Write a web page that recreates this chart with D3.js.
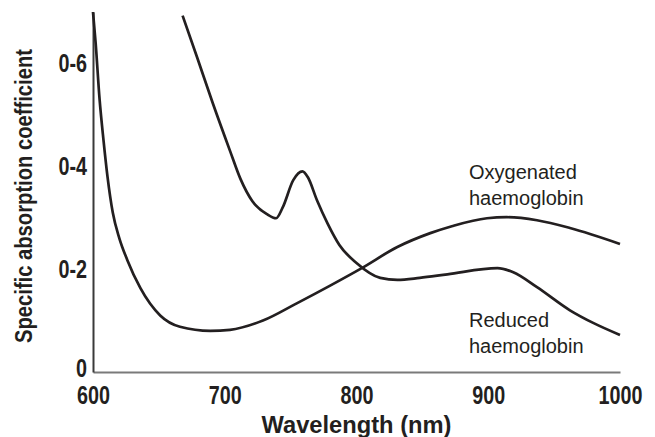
<!DOCTYPE html>
<html>
<head>
<meta charset="utf-8">
<script src="https://cdn.jsdelivr.net/npm/d3@7"></script>
<style>
    body { margin: 0; background: #fff; }
    #wrapper { width: 655px; height: 437px; }
    text { fill: #231f20; }
</style>
</head>
<body>
<div id="wrapper"></div>
<script>
// values (wavelength in nm, coefficient)
const oxyWavelength = [600, 602, 605, 608, 611, 615, 620, 626, 636, 651, 666, 689, 704, 729, 755, 780, 804, 831, 856, 873, 899, 914, 937, 962, 1000]
const oxyValue = [0.70, 0.64, 0.53, 0.45, 0.38, 0.31, 0.26, 0.218, 0.163, 0.110, 0.088, 0.080, 0.082, 0.100, 0.134, 0.168, 0.202, 0.243, 0.270, 0.284, 0.299, 0.301, 0.295, 0.280, 0.249]

const redWavelength = [668, 679, 691, 704, 712, 721, 732, 739, 744, 752, 759, 763, 770, 778, 787, 800, 818, 831, 848, 869, 907, 919, 937, 962, 980, 1000]
const redValue = [0.693, 0.612, 0.522, 0.430, 0.375, 0.332, 0.307, 0.299, 0.320, 0.373, 0.390, 0.379, 0.334, 0.289, 0.247, 0.212, 0.183, 0.179, 0.183, 0.190, 0.202, 0.194, 0.165, 0.120, 0.095, 0.072]

const xTicks = [600, 700, 800, 900, 1000]
const yTicks = [0, 0.2, 0.4, 0.6]
const yTickLabels = ['0', '0-2', '0-4', '0-6']

function renderChart() {
    const dimensions = {
        width: 655,
        height: 437,
        margins: {
            top: 12,
            right: 35,
            bottom: 65,
            left: 93
        }
    }
    dimensions.boundedWidth = dimensions.width - dimensions.margins.left - dimensions.margins.right
    dimensions.boundedHeight = dimensions.height - dimensions.margins.top - dimensions.margins.bottom

    const boldFont = '"Liberation Sans", Arial, sans-serif'
    const plainFont = '"Liberation Sans", Arial, sans-serif'

    // squeeze a bold label horizontally, the picture uses a condensed face
    const squeeze = (sel, k) => sel.each(function () {
        const len = this.getComputedTextLength()
        d3.select(this)
            .attr('textLength', len * k)
            .attr('lengthAdjust', 'spacingAndGlyphs')
    })

    const wrapper = d3.select('#wrapper')
        .append('svg')
        .attr('width', dimensions.width)
        .attr('height', dimensions.height)

    const bounds = wrapper.append('g')
        .attr('transform', `translate(${dimensions.margins.left}, ${dimensions.margins.top})`)

    const xScale = d3.scaleLinear()
        .domain([600, 1000])
        .range([0, dimensions.boundedWidth])

    const yScale = d3.scaleLinear()
        .domain([0, 0.7])
        .range([dimensions.boundedHeight, 0])

    const lineGenerator = d3.line()
        .x(d => xScale(d[0]))
        .y(d => yScale(d[1]))
        .curve(d3.curveMonotoneX)

    const oxyData = oxyWavelength.map((w, i) => [w, oxyValue[i]])
    const redData = redWavelength.map((w, i) => [w, redValue[i]])

    // axes
    const xAxisGenerator = d3.axisBottom(xScale)
        .tickValues(xTicks)
        .tickSize(0)
        .tickPadding(14)
        .tickFormat(d3.format('d'))

    const xAxis = bounds.append('g')
        .attr('transform', `translate(0, ${dimensions.boundedHeight})`)
        .call(xAxisGenerator)
    xAxis.select('.domain').attr('stroke', '#7a7a7a').attr('stroke-width', 2)
    xAxis.selectAll('text')
        .attr('fill', '#231f20')
        .style('font-family', boldFont)
        .style('font-weight', 'bold')
        .style('font-size', '26px')
        .call(squeeze, 0.76)

    const yAxisGenerator = d3.axisLeft(yScale)
        .tickValues(yTicks)
        .tickSize(0)
        .tickPadding(6)
        .tickFormat((d, i) => yTickLabels[i])

    const yAxis = bounds.append('g').call(yAxisGenerator)
    yAxis.select('.domain').attr('stroke', '#3a3a3a').attr('stroke-width', 2)
    yAxis.selectAll('text')
        .attr('fill', '#231f20')
        .attr('dy', (d, i) => i === 0 ? '0.16em' : '0.32em')
        .style('font-family', boldFont)
        .style('font-weight', 'bold')
        .style('font-size', '26px')
        .call(squeeze, 0.76)

    // curves
    bounds.append('path')
        .attr('d', lineGenerator(oxyData))
        .attr('fill', 'none')
        .attr('stroke', '#231f20')
        .attr('stroke-width', 2.7)

    bounds.append('path')
        .attr('d', lineGenerator(redData))
        .attr('fill', 'none')
        .attr('stroke', '#231f20')
        .attr('stroke-width', 2.7)

    // axis titles
    wrapper.append('text')
        .attr('x', dimensions.margins.left + xScale(800))
        .attr('y', 433)
        .attr('text-anchor', 'middle')
        .style('font-family', boldFont)
        .style('font-weight', 'bold')
        .style('font-size', '24px')
        .text('Wavelength (nm)')
        .attr('textLength', 190)
        .attr('lengthAdjust', 'spacingAndGlyphs')

    wrapper.append('text')
        .attr('transform', 'translate(32, 196) rotate(-90)')
        .attr('text-anchor', 'middle')
        .style('font-family', boldFont)
        .style('font-weight', 'bold')
        .style('font-size', '24px')
        .text('Specific absorption coefficient')
        .attr('textLength', 294)
        .attr('lengthAdjust', 'spacingAndGlyphs')

    // curve labels
    const labels = [
        { x: 469, y: 179, lines: ['Oxygenated', 'haemoglobin'] },
        { x: 469, y: 327, lines: ['Reduced', 'haemoglobin'] }
    ]
    labels.forEach(l => {
        const t = wrapper.append('text')
            .attr('x', l.x)
            .attr('y', l.y)
            .style('font-family', plainFont)
            .style('font-size', '20px')
        l.lines.forEach((line, i) => {
            t.append('tspan')
                .attr('x', l.x)
                .attr('dy', i === 0 ? 0 : 26)
                .text(line)
        })
    })
}

renderChart()
</script>
</body>
</html>
